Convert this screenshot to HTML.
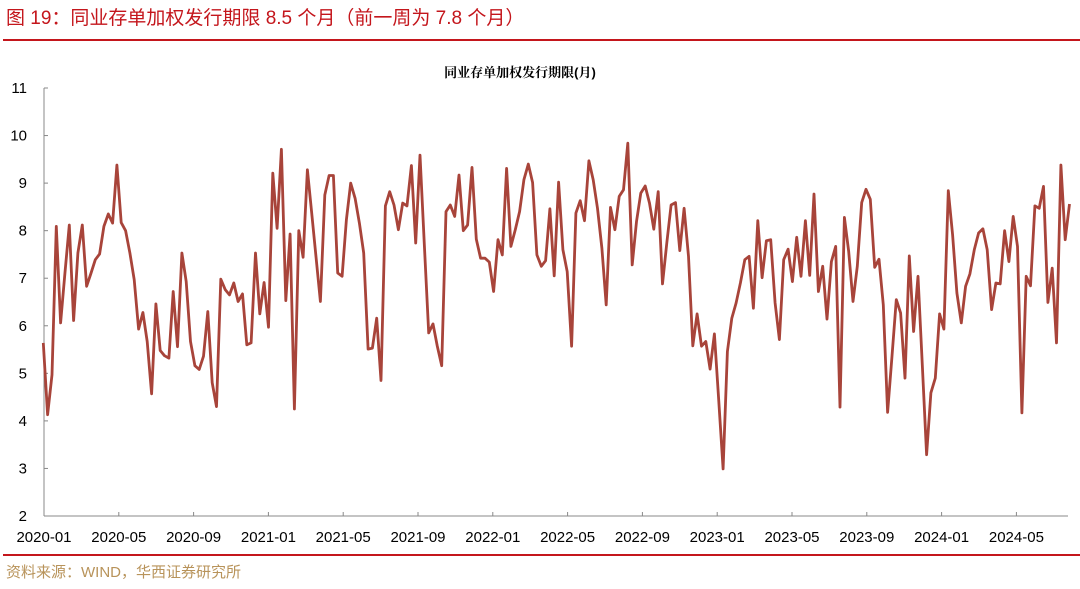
<!DOCTYPE html>
<html><head><meta charset="utf-8"><style>
body{margin:0;background:#fff;width:1080px;height:584px;overflow:hidden;font-family:"Liberation Sans","Noto Sans CJK SC",sans-serif}
</style></head><body>
<svg width="1080" height="584" viewBox="0 0 1080 584">
<text x="6" y="24" font-size="19" fill="#c4161c" font-family="Liberation Sans, Noto Sans CJK SC, sans-serif">图 19：同业存单加权发行期限 8.5 个月（前一周为 7.8 个月）</text>
<rect x="3" y="39" width="1077" height="2" fill="#c4161c"/>
<text x="520" y="77" font-size="13" font-weight="bold" text-anchor="middle" fill="#000" font-family="Liberation Sans, Noto Serif CJK SC, sans-serif">同业存单加权发行期限(月)</text>
<g id="axes"></g>
<g id="plot"></g>
<rect x="3" y="554" width="1077" height="2" fill="#c4161c"/>
<text x="6" y="577" font-size="15" fill="#b8935a" font-family="Liberation Sans, Noto Sans CJK SC, sans-serif">资料来源：WIND，华西证券研究所</text>
</svg>
<script>
const yTicks=[2,3,4,5,6,7,8,9,10,11];
const xTickLabels=["2020-01","2020-05","2020-09","2021-01","2021-05","2021-09","2022-01","2022-05","2022-09","2023-01","2023-05","2023-09","2024-01","2024-05"];
const values=[5.64,4.13,4.97,8.09,6.06,7.1,8.12,6.11,7.53,8.12,6.83,7.1,7.39,7.51,8.09,8.35,8.16,9.38,8.17,8.0,7.53,6.97,5.93,6.28,5.67,4.57,6.46,5.48,5.37,5.32,6.72,5.56,7.53,6.93,5.67,5.16,5.08,5.36,6.30,4.80,4.30,6.98,6.76,6.65,6.90,6.51,6.67,5.60,5.64,7.53,6.25,6.91,5.97,9.21,8.05,9.71,6.53,7.93,4.25,8.0,7.44,9.28,8.35,7.43,6.51,8.75,9.16,9.16,7.11,7.04,8.23,9.0,8.68,8.16,7.53,5.51,5.53,6.16,4.85,8.52,8.82,8.54,8.02,8.58,8.52,9.37,7.74,9.59,7.72,5.85,6.04,5.57,5.16,8.40,8.54,8.30,9.17,8.0,8.12,9.33,7.82,7.42,7.42,7.34,6.72,7.81,7.49,9.31,7.67,8.02,8.40,9.07,9.40,9.01,7.49,7.25,7.37,8.46,7.05,9.02,7.6,7.14,5.57,8.37,8.63,8.21,9.47,9.07,8.47,7.63,6.44,8.49,8.02,8.72,8.86,9.84,7.28,8.19,8.79,8.94,8.58,8.03,8.82,6.88,7.74,8.54,8.59,7.58,8.47,7.46,5.58,6.25,5.57,5.67,5.09,5.83,4.41,2.99,5.46,6.16,6.48,6.90,7.39,7.46,6.37,8.21,7.01,7.79,7.81,6.48,5.71,7.39,7.61,6.93,7.86,7.04,8.21,7.06,8.77,6.72,7.25,6.14,7.35,7.67,4.29,8.28,7.56,6.51,7.25,8.59,8.87,8.66,7.23,7.40,6.44,4.18,5.36,6.55,6.27,4.90,7.47,5.88,7.04,5.18,3.29,4.59,4.90,6.25,5.93,8.84,7.91,6.69,6.06,6.83,7.09,7.6,7.95,8.04,7.6,6.34,6.90,6.88,8.0,7.35,8.30,7.67,4.17,7.04,6.84,8.52,8.47,8.93,6.49,7.21,5.64,9.38,7.81,8.56];
const X0=44,Y0=516,Y1=88,W=4.33,MONTHPX=18.7;
const ymin=2,ymax=11;
function yS(v){return Y0-(v-ymin)/(ymax-ymin)*(Y0-Y1);}
function xS(i){return X0-0.7+i*W;}
const NS="http://www.w3.org/2000/svg";
const axes=document.getElementById('axes');
function mk(tag,attrs,parent){const e=document.createElementNS(NS,tag);for(const k in attrs)e.setAttribute(k,attrs[k]);parent.appendChild(e);return e;}
const yl=mk('line',{x1:X0,y1:Y1,x2:X0,y2:Y0,stroke:'#888','stroke-width':1},axes);


const xl=mk('line',{x1:X0,y1:Y0,x2:1068,y2:Y0,stroke:'#888','stroke-width':1},axes);


yTicks.forEach(v=>{
  const t=mk('line',{x1:X0,x2:X0+4,y1:yS(v),y2:yS(v),stroke:'#888'},axes);
  
  
  const l=mk('text',{x:27,y:yS(v)+5,'text-anchor':'end','font-size':15,fill:'#000'},axes);
  l.textContent=v;
  
  
});
xTickLabels.forEach((s,i)=>{
  const x=X0+i*4*MONTHPX;
  const t=mk('line',{x1:x,x2:x,y1:Y0,y2:Y0-4,stroke:'#888'},axes);
  
  
  const l=mk('text',{x:x,y:542,'text-anchor':'middle','font-size':15,fill:'#000'},axes);
  l.textContent=s;
  
  
});
const plot=document.getElementById('plot');
const d=values.map((v,i)=>(i?'L':'M')+xS(i).toFixed(1)+' '+yS(v).toFixed(1)).join(' ');
const p=mk('path',{d:d,fill:'none',stroke:'#a8443a','stroke-width':2.8,'stroke-linejoin':'round'},plot);


</script>
</body></html>
